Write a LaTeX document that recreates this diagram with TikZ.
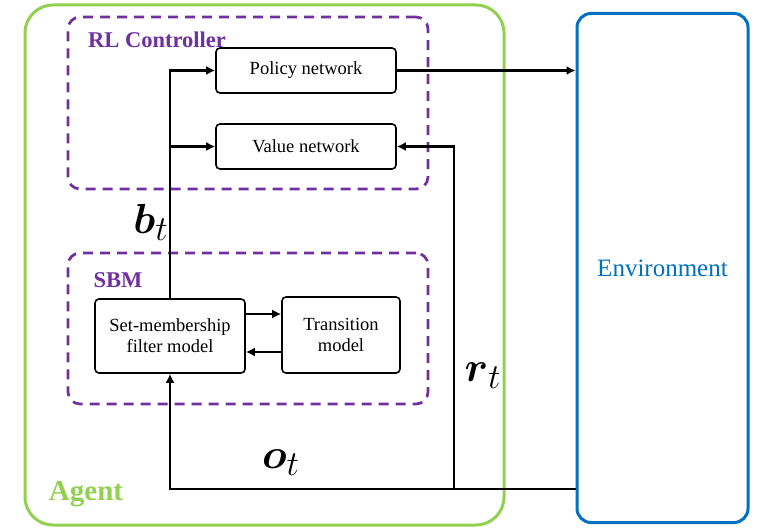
\documentclass[tikz,border=0pt]{standalone}
\usepackage{amsmath}
\usepackage{fontspec}
\setmainfont{Liberation Serif}
\newfontfamily\tnr{Liberation Serif}
\usetikzlibrary{arrows.meta,calc}
\definecolor{agentgreen}{RGB}{146,208,80}
\definecolor{envblue}{RGB}{0,112,192}
\definecolor{sbmpurple}{RGB}{112,48,160}
\begin{document}
\begin{tikzpicture}[x=1pt,y=-1pt,
  blk/.style={draw=black,line width=1.6pt,rounded corners=4pt,align=center,inner sep=0pt,font=\tnr\fontsize{18.5}{21}\selectfont},
  grp/.style={draw=sbmpurple,line width=2.7pt,dash pattern=on 10pt off 7pt,rounded corners=12pt},
  grplabel/.style={text=sbmpurple,font=\tnr\bfseries\fontsize{22.5}{26}\selectfont,inner sep=0pt},
  conn/.style={draw=black,line width=2.2pt},
  arr/.style={conn,-{Latex[length=9pt,width=9pt]}},
  mlabel/.style={font=\Huge,scale=1.69,inner sep=0pt}]
\useasboundingbox (0,0) rectangle (762,527);
% Agent and Environment
\node[draw=agentgreen,line width=3pt,rounded corners=28pt,minimum width=479pt,minimum height=520pt,inner sep=0pt] (agent) at (264.5,265) {};
\node[draw=envblue,line width=3pt,rounded corners=14pt,minimum width=171pt,minimum height=509pt,inner sep=0pt,text=envblue,font=\tnr\fontsize{25}{29}\selectfont] (env) at (662.5,268) {Environment};
\node[text=agentgreen,font=\tnr\bfseries\fontsize{29}{33}\selectfont,inner sep=0pt] (agentlabel) at (86,494) {Agent};
% Groups
\node[grp,minimum width=360pt,minimum height=172pt,inner sep=0pt] (rl) at (248,103) {};
\node[grp,minimum width=360pt,minimum height=151pt,inner sep=0pt] (sbm) at (248,328.5) {};
\node[grplabel] (rllabel) at (157,40) {RL Controller};
\node[grplabel] (sbmlabel) at (118,280) {SBM};
% Blocks
\node[blk,minimum width=180pt,minimum height=45pt] (policy) at (306,70.5) {Policy network};
\node[blk,minimum width=180pt,minimum height=45pt] (value) at (306,146.5) {Value network};
\node[blk,minimum width=150pt,minimum height=74pt] (smf) at (170,336) {Set-membership\\filter model};
\node[blk,minimum width=118pt,minimum height=76pt] (trans) at (341,335) {Transition\\model};
% Coordinates
\coordinate (obase) at (env.west |- 0,489);
\coordinate (rjoin) at (454,489);
% Connectors
\draw[arr] (smf.north) |- (policy.west);
\draw[arr] (smf.north |- value.west) -- (value.west);
\draw[arr] (policy.east) -- (policy.east -| env.west);
\draw[arr] (obase) -| (smf.south);
\draw[arr] (rjoin) |- (value.east);
\draw[arr] ([yshift=22pt]smf.east) -- ([yshift=22pt]smf.east -| trans.west);
\draw[arr] ([yshift=-17pt]trans.west) -- ([yshift=-17pt]trans.west -| smf.east);
% Math labels
\node[mlabel] (bt) at (151,222) {$\boldsymbol{b}_t$};
\node[mlabel] (ot) at (281,463) {$\boldsymbol{o}_t$};
\node[mlabel] (rt) at (483,376) {$\boldsymbol{r}_t$};
\end{tikzpicture}
\end{document}
